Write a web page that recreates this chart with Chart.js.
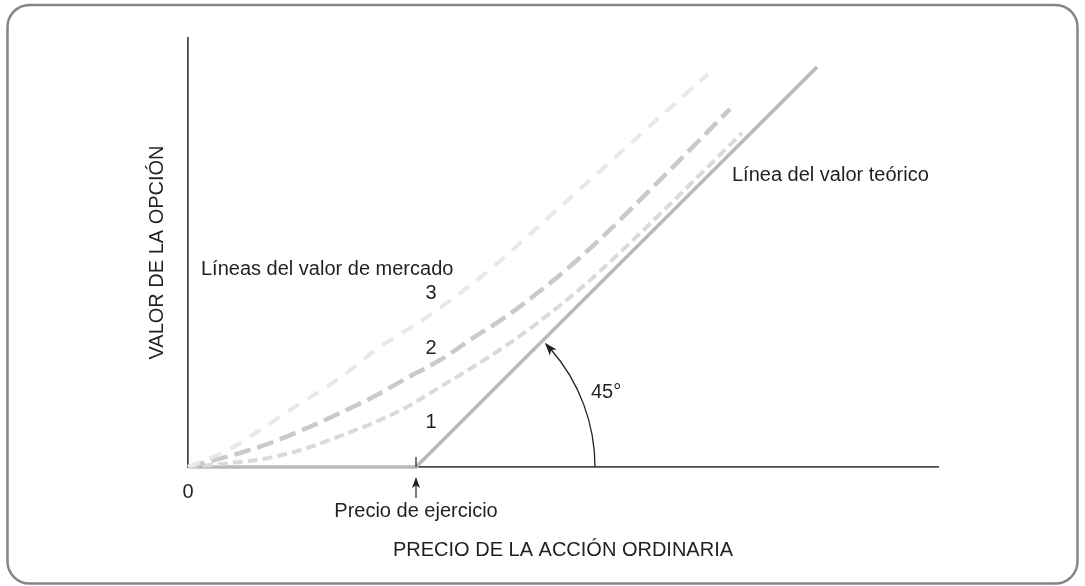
<!DOCTYPE html>
<html>
<head>
<meta charset="utf-8">
<script src="https://cdn.jsdelivr.net/npm/chart.js"></script>
<style>
  html, body { margin: 0; padding: 0; background: #fff; }
  #wrap { width: 1085px; height: 586px; position: relative; }
</style>
</head>
<body>
<div id="wrap"><canvas id="chartOpcion"></canvas></div>
<script>
// precio de la accion (x) y valor de la opcion (y), unidades arbitrarias
const strike = 45.6;

const teoricoX = [0, strike, 125.8];
const teoricoY = [0, 0, 80];

const mercado1X = [0, 10.4, 17, 23.8, 30.4, 37, 43.8, 50.4, 57, 63.8, 70.4, 76, 82, 94.4, 110.8];
const mercado1Y = [0, 1, 2, 3.8, 6.2, 8.8, 12, 16, 20, 24.4, 29.2, 33.6, 38.8, 50.6, 66.8];

const mercado2X = [0, 10.4, 17, 23.8, 30.4, 37, 43.8, 50.4, 57, 63.8, 70.4, 74.4, 82, 94.4, 108.4];
const mercado2Y = [0, 2.8, 5, 7.8, 10.8, 14, 17.8, 21.4, 25.8, 30.2, 35.2, 38.4, 45.2, 57.4, 71.6];

const mercado3X = [0, 8.4, 14.4, 20.4, 29.8, 38.4, 47.8, 59.8, 74.4, 94.4, 104];
const mercado3Y = [0, 3.6, 7.4, 11.4, 17.4, 24, 30, 39, 52, 70, 78.6];

const xMax = 150;
const yMax = 85.8;

const tituloX = 'PRECIO DE LA ACCIÓN ORDINARIA';
const tituloY = 'VALOR DE LA OPCIÓN';
const etiquetaMercado = 'Líneas del valor de mercado';
const etiquetaTeorico = 'Línea del valor teórico';
const etiquetaEjercicio = 'Precio de ejercicio';
const etiquetaAngulo = '45°';
const etiquetaCero = '0';

function toPoints(xs, ys) {
    return xs.map((x, i) => ({ x: x, y: ys[i] }));
}

const FONT = '20px "Liberation Sans", Arial, sans-serif';
const INK = '#231f20';

function arrowHead(ctx, x, y, angle, len, half) {
    ctx.save();
    ctx.translate(x, y);
    ctx.rotate(angle);
    ctx.beginPath();
    ctx.moveTo(0, 0);
    ctx.lineTo(-len, -half);
    ctx.lineTo(-len * 0.75, 0);
    ctx.lineTo(-len, half);
    ctx.closePath();
    ctx.fill();
    ctx.restore();
}

const marco = {
    id: 'marco',
    beforeDraw(chart) {
        const ctx = chart.ctx;
        ctx.save();
        ctx.fillStyle = '#fff';
        ctx.fillRect(0, 0, chart.width, chart.height);
        ctx.strokeStyle = '#858585';
        ctx.lineWidth = 2.5;
        ctx.beginPath();
        ctx.roundRect(7.5, 5, 1070, 578.5, 22);
        ctx.stroke();
        ctx.restore();
    }
};

const anotaciones = {
    id: 'anotaciones',
    afterDraw(chart) {
        const ctx = chart.ctx;
        const xs = chart.scales.x;
        const ys = chart.scales.y;
        const area = chart.chartArea;
        const sx = xs.getPixelForValue(strike);
        const y0 = ys.getPixelForValue(0);
        const x0 = xs.getPixelForValue(0);

        ctx.save();
        ctx.fillStyle = INK;
        ctx.strokeStyle = INK;
        ctx.font = FONT;

        // marca del precio de ejercicio
        ctx.lineWidth = 1.2;
        ctx.beginPath();
        ctx.moveTo(sx, y0 - 10);
        ctx.lineTo(sx, y0);
        ctx.stroke();

        // flecha hacia arriba
        ctx.beginPath();
        ctx.moveTo(sx, 498);
        ctx.lineTo(sx, 485);
        ctx.stroke();
        arrowHead(ctx, sx, 477, -Math.PI / 2, 11, 4);

        // arco de 45 grados
        const r = 179;
        const fin = -44 * Math.PI / 180;
        ctx.lineWidth = 1.3;
        ctx.beginPath();
        ctx.arc(sx, y0, r, 0, fin + 0.05, true);
        ctx.stroke();
        const ax = sx + r * Math.cos(fin);
        const ay = y0 + r * Math.sin(fin);
        arrowHead(ctx, ax, ay, fin - Math.PI / 2 + 0.05, 13, 4.5);

        // textos
        ctx.textBaseline = 'alphabetic';
        ctx.textAlign = 'left';
        ctx.fillText(etiquetaMercado, 201, 275);
        ctx.fillText(etiquetaTeorico, 732, 181);
        ctx.fillText(etiquetaAngulo, 591, 398);

        ctx.textAlign = 'center';
        ctx.fillText('3', 431, 299);
        ctx.fillText('2', 431, 354);
        ctx.fillText('1', 431, 428);
        ctx.fillText(etiquetaCero, x0, 498);
        ctx.fillText(etiquetaEjercicio, sx, 517);
        ctx.fillText(tituloX, (area.left + area.right) / 2, 556);

        ctx.translate(157, (area.top + area.bottom) / 2);
        ctx.rotate(-Math.PI / 2);
        ctx.textBaseline = 'middle';
        ctx.fillText(tituloY, 0, 0);
        ctx.restore();
    }
};

const dataOpcion = {
    datasets: [
        {
            label: 'Mercado 3',
            data: toPoints(mercado3X, mercado3Y),
            borderColor: '#e8e8e8',
            borderWidth: 4,
            borderDash: [13, 10],
            cubicInterpolationMode: 'monotone',
        },
        {
            label: 'Mercado 2',
            data: toPoints(mercado2X, mercado2Y),
            borderColor: '#cacaca',
            borderWidth: 4.5,
            borderDash: [17, 7],
            cubicInterpolationMode: 'monotone',
        },
        {
            label: 'Mercado 1',
            data: toPoints(mercado1X, mercado1Y),
            borderColor: '#dadada',
            borderWidth: 4,
            borderDash: [10, 5],
            cubicInterpolationMode: 'monotone',
        },
        {
            label: 'Valor teórico',
            data: toPoints(teoricoX, teoricoY),
            borderColor: '#b9b9b9',
            borderWidth: 3.5,
            tension: 0,
        },
    ]
};

const config = {
    type: 'line',
    data: dataOpcion,
    options: {
        responsive: true,
        maintainAspectRatio: false,
        animation: false,
        layout: { padding: { left: 188, right: 147, top: 38, bottom: 119 } },
        elements: { point: { radius: 0 }, line: { fill: false, borderCapStyle: 'butt' } },
        datasets: { line: { clip: false } },
        plugins: { legend: { display: false }, tooltip: { enabled: false } },
        scales: {
            x: {
                type: 'linear',
                min: 0,
                max: xMax,
                ticks: { display: false },
                grid: { display: false, drawTicks: false },
                border: { display: true, color: '#4a4a4a', width: 1.8 },
            },
            y: {
                type: 'linear',
                min: 0,
                max: yMax,
                ticks: { display: false },
                grid: { display: false, drawTicks: false },
                border: { display: true, color: '#4a4a4a', width: 1.8 },
            }
        }
    },
    plugins: [marco, anotaciones],
};

const chartOpcion = new Chart(document.getElementById('chartOpcion'), config);
</script>
</body>
</html>
